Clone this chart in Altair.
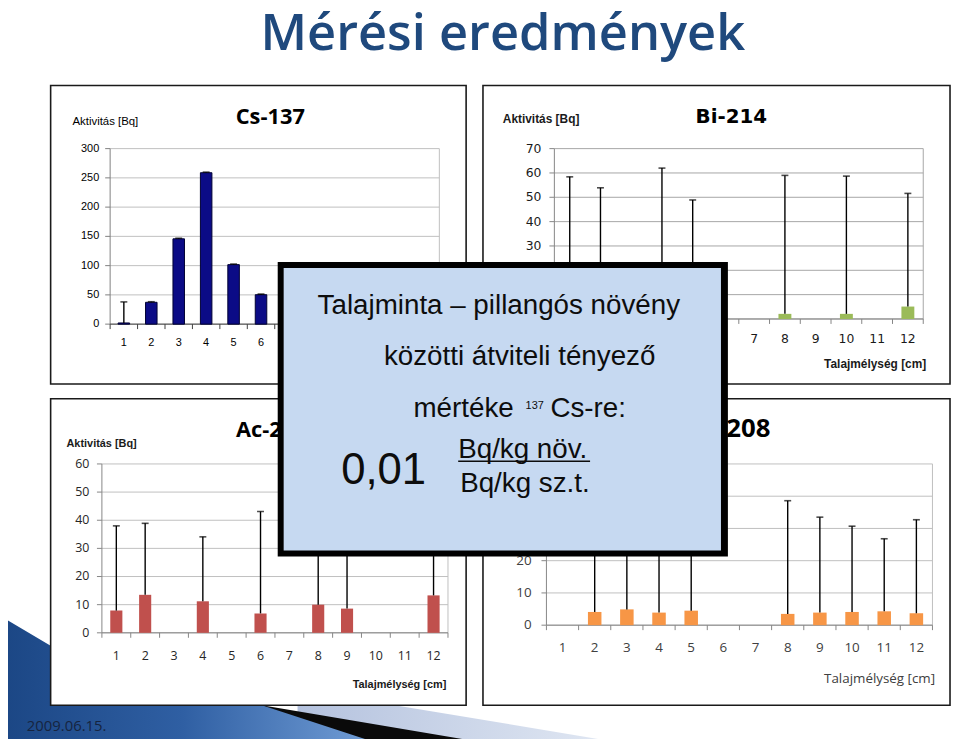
import altair as alt
import pandas as pd

OFF = 8            # page margin of the embedding page
W, H = 952, 734    # view size (reaches the window edges)

# ---------------- data ----------------
depth = ["1", "2", "3", "4", "5", "6", "7", "8", "9", "10", "11", "12"]

cs137_value = [2.0, 37.3, 145.8, 258.8, 101.7, 50.3, None, None, None, None, None, None]
cs137_upper = [38.0, 38.3, 146.8, 259.8, 102.7, 51.3, None, None, None, None, None, None]

bi214_value = [2.5, 2.2, None, 2.6, 2.0, None, None, 2.1, None, 2.1, None, 5.1]
bi214_upper = [58.4, 53.9, None, 62.0, 48.9, None, None, 59.0, None, 58.7, None, 51.6]

ac228_value = [7.9, 13.5, None, 11.2, None, 6.9, None, 10.0, 8.6, None, None, 13.3]
ac228_upper = [38.0, 38.9, None, 34.1, None, 43.1, None, 36.0, 33.0, None, None, 41.0]

tl208_value = [None, 4.1, 4.9, 3.9, 4.5, None, None, 3.5, 3.9, 4.1, 4.3, 3.7]
tl208_upper = [None, 36.0, 38.0, 35.0, 37.0, None, None, 38.6, 33.5, 30.7, 26.8, 32.7]

cs137_ticks = [0, 50, 100, 150, 200, 250, 300]
bi214_ticks = [0, 10, 20, 30, 40, 50, 60, 70]
ac228_ticks = [0, 10, 20, 30, 40, 50, 60]
tl208_ticks = [0, 10, 20, 30, 40, 50]

F_ARIAL = "Liberation Sans"
F_CAL = "Open Sans"
F_VER = "DejaVu Sans"


def one():
    return pd.DataFrame({"t": [""]})


def txt(s, x, y, **props):
    return alt.Chart(pd.DataFrame({"t": [s]})).mark_text(**props).encode(
        x=alt.value(x - OFF), y=alt.value(y - OFF), text="t:N")


def rect(x0, y0, x1, y1, **props):
    return alt.Chart(one()).mark_rect(**props).encode(
        x=alt.value(x0 - OFF), x2=alt.value(x1 - OFF),
        y=alt.value(y0 - OFF), y2=alt.value(y1 - OFF))


def hline(x0, x1, y, **props):
    return alt.Chart(one()).mark_rule(**props).encode(
        x=alt.value(x0 - OFF), x2=alt.value(x1 - OFF), y=alt.value(y - OFF))


def vline(x, y0, y1, **props):
    return alt.Chart(one()).mark_rule(**props).encode(
        x=alt.value(x - OFF), y=alt.value(y0 - OFF), y2=alt.value(y1 - OFF))


def shape(xs, ys, color):
    df = pd.DataFrame({"x": [v - OFF for v in xs], "y": [v - OFF for v in ys],
                       "b": [H for _ in xs]})
    sx = alt.Scale(domain=[0, W], range=[0, W], zero=False, nice=False)
    sy = alt.Scale(domain=[0, H], range=[0, H], zero=False, nice=False)
    return alt.Chart(df).mark_area(color=color, orient="vertical").encode(
        x=alt.X("x:Q", scale=sx, axis=None),
        y=alt.Y("y:Q", scale=sy, axis=None),
        y2="b:Q")


def panel(values, upper, ticks, color, g):
    x0, x1, yb, yt = g["x0"], g["x1"], g["yb"], g["yt"]
    df = pd.DataFrame({"depth": depth, "value": values, "upper": upper})
    dc = pd.DataFrame({"depth": depth})
    dt = pd.DataFrame({"v": ticks})
    xs = alt.Scale(type="band", domain=depth, range=[x0 - OFF, x1 - OFF],
                   paddingInner=0, paddingOuter=0)
    ys = alt.Scale(type="linear", domain=[0, ticks[-1]], range=[yb - OFF, yt - OFF],
                   nice=False, zero=True)
    X = alt.X("depth:N", scale=xs, axis=None)

    grid = alt.Chart(dt).mark_rule(color=g["grid"], strokeWidth=1).encode(
        y=alt.Y("v:Q", scale=ys, axis=None),
        x=alt.value(x0 - OFF), x2=alt.value(x1 - OFF))
    ytickmarks = alt.Chart(dt).mark_rule(color=g["axis"], strokeWidth=1).encode(
        y=alt.Y("v:Q", scale=ys, axis=None),
        x=alt.value(x0 - OFF - 5), x2=alt.value(x0 - OFF))
    ylabels = alt.Chart(dt).mark_text(
        align="right", baseline="middle", font=g["font"], fontSize=g["fs"],
        color=g["lc"]).encode(
        y=alt.Y("v:Q", scale=ys, axis=None),
        x=alt.value(g["lx"] - OFF), text=alt.Text("v:Q", format="d"))
    yaxis = vline(x0, yt, yb, color=g["axis"], strokeWidth=1)
    rframe = vline(x1, yt, yb, color=g["grid"], strokeWidth=1)
    xaxis = hline(x0, x1, yb, color=g["xaxis"], strokeWidth=1)
    xtickmarks = alt.Chart(dc).mark_rule(color=g["xaxis"], strokeWidth=1).encode(
        x=alt.X("depth:N", scale=xs, axis=None, bandPosition=0),
        y=alt.value(yb - OFF), y2=alt.value(yb - OFF + 5))
    xend = vline(x1, yb, yb + 5, color=g["xaxis"], strokeWidth=1)
    xlabels = alt.Chart(dc).mark_text(
        align="center", baseline="middle", font=g["font"], fontSize=g["fs"],
        color=g["lc"]).encode(x=X, y=alt.value(g["ly"] - OFF), text="depth:N")

    barprops = dict(color=color)
    if g.get("barstroke"):
        barprops.update(stroke=g["barstroke"], strokeWidth=1)
    bars = alt.Chart(df).mark_bar(width=alt.RelativeBandSize(0.42), **barprops).encode(
        x=X, y=alt.Y("value:Q", scale=ys, axis=None))
    err = alt.Chart(df).mark_rule(color="black", strokeWidth=1.4).encode(
        x=X, y=alt.Y("value:Q", scale=ys, axis=None), y2="upper:Q")
    caps = alt.Chart(df).mark_tick(orient="horizontal", size=7, thickness=1.6,
                                   color="black").encode(
        x=X, y=alt.Y("upper:Q", scale=ys, axis=None))

    return alt.layer(grid, rframe, yaxis, ytickmarks, ylabels, xaxis, xtickmarks, xend,
                     xlabels, bars, err, caps)


layers = []

# ---- background swoosh (bottom left) ----
layers.append(shape([300, 398, 603], [690, 708, 742],
                    alt.Gradient(gradient="linear",
                                 stops=[alt.GradientStop(color="#b4c2de", offset=0),
                                        alt.GradientStop(color="#dfe6f2", offset=1)],
                                 x1=0, x2=1, y1=0, y2=0)))
layers.append(shape([200, 264, 466], [696, 708, 742], "#0a0a0a"))
layers.append(shape([0, 51, 150, 264, 368], [618, 648, 680, 708, 742],
                    alt.Gradient(gradient="linear",
                                 stops=[alt.GradientStop(color="#1b4684", offset=0),
                                        alt.GradientStop(color="#2f5fa3", offset=0.5),
                                        alt.GradientStop(color="#6f9bd4", offset=1)],
                                 x1=0, x2=1, y1=0, y2=0)))

# ---- slide title ----
layers.append(txt("Mérési eredmények", 507, 47, align="center", baseline="alphabetic",
                  font=F_CAL, fontSize=51, fontWeight=600, color="#1f497d"))

# ---- panel frames ----
frame = dict(fill="white", stroke="#1a1a1a", strokeWidth=1.6)
layers.append(rect(51, 83, 470, 384, **frame))
layers.append(rect(487, 83, 958, 384, **frame))
layers.append(rect(51, 399, 470, 708, **frame))
layers.append(rect(487, 399, 958, 708, **frame))

# ---- panel 1: Cs-137 ----
layers.append(panel(cs137_value, cs137_upper, cs137_ticks, "#0b0b86",
                    dict(x0=111, x1=443, yb=323.7, yt=146.7, grid="#bfbfbf", axis="#808080",
                         xaxis="#404040", font=F_ARIAL, fs=11, lc="#000000", lx=100, ly=343,
                         barstroke="#000033")))
layers.append(txt("Cs-137", 272.5, 121.5, align="center", baseline="alphabetic",
                  font=F_CAL, fontSize=22, fontWeight="bold", color="#000000"))
layers.append(txt("Aktivitás [Bq]", 73, 119.5, align="left", baseline="middle",
                  font=F_ARIAL, fontSize=11.5, color="#000000"))

# ---- panel 2: Bi-214 ----
layers.append(panel(bi214_value, bi214_upper, bi214_ticks, "#9bbb59",
                    dict(x0=559, x1=931, yb=318.5, yt=146.7, grid="#a6a6a6", axis="#868686",
                         xaxis="#868686", font=F_VER, fs=12.5, lc="#1a1a1a", lx=546, ly=339)))
layers.append(txt("Bi-214", 737.5, 121, align="center", baseline="alphabetic",
                  font=F_VER, fontSize=20, fontWeight="bold", color="#000000"))
layers.append(txt("Aktivitás [Bq]", 507, 117, align="left", baseline="middle",
                  font=F_ARIAL, fontSize=12, fontWeight="bold", color="#1a1a1a"))
layers.append(txt("Talajmélység [cm]", 934, 364, align="right", baseline="middle",
                  font=F_ARIAL, fontSize=12, fontWeight="bold", color="#1a1a1a"))

# ---- panel 3: Ac-228 ----
layers.append(panel(ac228_value, ac228_upper, ac228_ticks, "#c0504d",
                    dict(x0=102.7, x1=451.7, yb=635, yt=464.7, grid="#bfbfbf", axis="#868686",
                         xaxis="#868686", font=F_CAL, fs=12.5, lc="#262626", lx=90, ly=658)))
layers.append(txt("Ac-228", 273.5, 437.7, align="center", baseline="alphabetic",
                  font=F_CAL, fontSize=22, fontWeight="bold", color="#000000"))
layers.append(txt("Aktivitás [Bq]", 67, 444.3, align="left", baseline="middle",
                  font=F_ARIAL, fontSize=11, fontWeight="bold", color="#1a1a1a"))
layers.append(txt("Talajmélység [cm]", 450, 688, align="right", baseline="middle",
                  font=F_ARIAL, fontSize=11, fontWeight="bold", color="#1a1a1a"))

# ---- panel 4: Tl-208 ----
layers.append(panel(tl208_value, tl208_upper, tl208_ticks, "#f79646",
                    dict(x0=551, x1=940.3, yb=627.3, yt=464.7, grid="#bfbfbf", axis="#868686",
                         xaxis="#868686", font=F_CAL, fs=13.5, lc="#404040", lx=536, ly=650)))
layers.append(txt("Tl-208", 777, 437.7, align="right", baseline="alphabetic",
                  font=F_CAL, fontSize=26, fontWeight="bold", color="#000000"))
layers.append(txt("Talajmélység [cm]", 943, 682, align="right", baseline="middle",
                  font=F_CAL, fontSize=13.5, color="#404040"))

# ---- overlay box ----
layers.append(rect(280, 261, 734, 558, fill="#000000"))
layers.append(rect(286, 267, 727, 552, fill="#c6d9f1"))
BOX = dict(font=F_ARIAL, fontSize=28, color="#0d0d0d", baseline="alphabetic")
layers.append(txt("Talajminta – pillangós növény", 503, 313, align="center", **BOX))
layers.append(txt("közötti  átviteli tényező", 524, 365, align="center", **BOX))
layers.append(txt("mértéke", 518, 417, align="right", **BOX))
layers.append(txt("137", 530, 409, align="left", font=F_ARIAL, fontSize=11,
                  color="#0d0d0d", baseline="alphabetic"))
layers.append(txt("Cs-re:", 555, 417, align="left", **BOX))
layers.append(txt("0,01", 344, 485, align="left", font=F_ARIAL, fontSize=44,
                  color="#0d0d0d", baseline="alphabetic"))
layers.append(txt("Bq/kg növ.", 462, 459, align="left", **BOX))
layers.append(hline(462, 595, 462, color="#0d0d0d", strokeWidth=1.5))
layers.append(txt("Bq/kg sz.t.", 464, 493, align="left", **BOX))

# ---- date ----
layers.append(txt("2009.06.15.", 27, 734, align="left", baseline="alphabetic",
                  font=F_CAL, fontSize=15, color="#16243f"))

chart = alt.layer(*layers).resolve_scale(
    x="independent", y="independent"
).properties(
    width=W, height=H, padding=0, autosize=alt.AutoSizeParams(type="none")
).configure_view(stroke=None)

chart.save("out.html", embed_options={"renderer": "svg", "actions": False})
